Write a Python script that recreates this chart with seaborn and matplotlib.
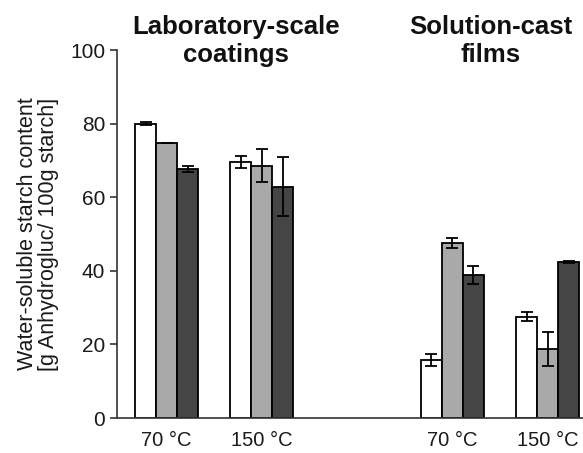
import pandas as pd
import matplotlib
matplotlib.use("Agg")
import matplotlib.pyplot as plt
import seaborn as sns

# datos
posiciones = [0, 1, 3, 4]
etiquetas = ['70 °C', '150 °C', '70 °C', '150 °C']
series = ['S1', 'S2', 'S3']
valores = {
    'S1': [80.0, 69.5, 15.8, 27.5],
    'S2': [74.7, 68.6, 47.6, 18.8],
    'S3': [67.7, 62.9, 38.9, 42.4],
}
errores = {
    'S1': [0.4, 1.6, 1.6, 1.2],
    'S2': [0.0, 4.6, 1.4, 4.7],
    'S3': [0.9, 7.9, 2.5, 0.3],
}
colores = ['#ffffff', '#a9a9a9', '#454545']

filas = []
for s in series:
    for p, v, e in zip(posiciones, valores[s], errores[s]):
        filas.append({'pos': p, 'serie': s, 'valor': v, 'err': e})
df = pd.DataFrame(filas)

sns.set_style('ticks')
plt.rcParams['font.family'] = ['Liberation Sans', 'DejaVu Sans']

fig = plt.figure(figsize=(5.83, 4.53), dpi=100)
ax = fig.add_axes([117 / 583, 1 - 418 / 453, 466 / 583, 368 / 453])

sns.barplot(data=df, x='pos', y='valor', hue='serie', hue_order=series,
            palette=colores, native_scale=True, width=0.66, errorbar=None,
            edgecolor='black', linewidth=1.3, legend=False, ax=ax)

# barras de error a mano (valores del grafico)
for s, cont in zip(series, ax.containers):
    for barra, e in zip(cont, errores[s]):
        xc = barra.get_x() + barra.get_width() / 2
        ax.errorbar(xc, barra.get_height(), yerr=e, color='black',
                    capsize=4, elinewidth=1.3, capthick=1.3, fmt='none')

ax.set_xlim(-0.52, 4.37)
ax.set_ylim(0, 100)
ax.set_yticks([0, 20, 40, 60, 80, 100])
ax.set_xticks(posiciones)
ax.set_xticklabels(etiquetas)
ax.tick_params(axis='x', length=0, labelsize=14.5, pad=9, labelcolor='#1a1a1a')
ax.tick_params(axis='y', length=5, width=1.2, labelsize=15, color='#333333',
               labelcolor='#1a1a1a')
ax.set_xlabel('')
ax.set_ylabel('Water-soluble starch content\n[g Anhydrogluc/ 100g starch]',
              fontsize=15.5, labelpad=8, linespacing=1.0, color='#1a1a1a')
sns.despine(ax=ax, top=True, right=True)
ax.spines['left'].set_linewidth(1.2)
ax.spines['bottom'].set_linewidth(1.2)
ax.spines['left'].set_color('#333333')
ax.spines['bottom'].set_color('#333333')

fig.text(236 / 583, 1 - 67 / 453, 'Laboratory-scale\ncoatings', ha='center',
         va='bottom', fontsize=18.5, fontweight='bold', color='#111111')
fig.text(491 / 583, 1 - 67 / 453, 'Solution-cast\nfilms', ha='center',
         va='bottom', fontsize=18.5, fontweight='bold', color='#111111')

fig.savefig('out.png', dpi=100)
